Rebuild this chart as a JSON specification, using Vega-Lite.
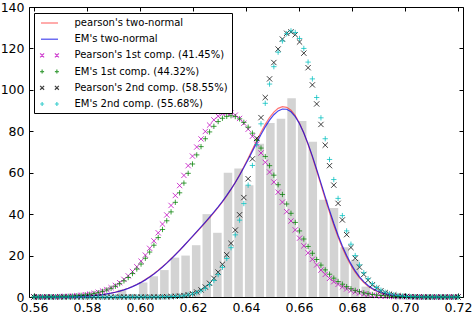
{
  "$schema": "https://vega.github.io/schema/vega-lite/v6.json",
  "width": 434,
  "height": 290,
  "autosize": {"type": "none"},
  "padding": {"left": 29, "top": 7, "right": 11, "bottom": 27},
  "config": {
    "font": "DejaVu Sans",
    "view": {"stroke": "black", "strokeWidth": 1},
    "axis": {"labelFont": "DejaVu Sans", "labelFontSize": 12.5, "labelColor": "black", "tickColor": "black", "tickWidth": 1, "domain": false, "grid": false, "tickSize": -4}
  },
  "datasets": {
    "hist": [
      {"center": 0.5932, "count": 3.5}, {"center": 0.5972, "count": 1.5}, {"center": 0.6012, "count": 7}, {"center": 0.6052, "count": 10},
      {"center": 0.6092, "count": 13}, {"center": 0.6132, "count": 19}, {"center": 0.6172, "count": 20}, {"center": 0.6212, "count": 25},
      {"center": 0.6252, "count": 40}, {"center": 0.6292, "count": 31}, {"center": 0.6332, "count": 60}, {"center": 0.6372, "count": 62},
      {"center": 0.6412, "count": 54}, {"center": 0.6452, "count": 74}, {"center": 0.6492, "count": 84}, {"center": 0.6532, "count": 86},
      {"center": 0.6572, "count": 96}, {"center": 0.6612, "count": 85}, {"center": 0.6652, "count": 75}, {"center": 0.6692, "count": 47},
      {"center": 0.6732, "count": 43}, {"center": 0.6772, "count": 24}, {"center": 0.6812, "count": 18}, {"center": 0.6852, "count": 5}
    ],
    "curves": [
      {"x": 0.56, "p1": 0, "e1": 0, "p2": 0, "e2": 0, "pm": 0.01, "em": 0.01},
      {"x": 0.56162, "p1": 0, "e1": 0, "p2": 0, "e2": 0, "pm": 0.01, "em": 0.01},
      {"x": 0.56323, "p1": 0, "e1": 0, "p2": 0, "e2": 0, "pm": 0.02, "em": 0.02},
      {"x": 0.56485, "p1": 0.1, "e1": 0.1, "p2": 0, "e2": 0, "pm": 0.03, "em": 0.03},
      {"x": 0.56646, "p1": 0.1, "e1": 0.1, "p2": 0, "e2": 0, "pm": 0.04, "em": 0.04},
      {"x": 0.56808, "p1": 0.1, "e1": 0.1, "p2": 0, "e2": 0, "pm": 0.06, "em": 0.06},
      {"x": 0.5697, "p1": 0.2, "e1": 0.2, "p2": 0, "e2": 0, "pm": 0.08, "em": 0.08},
      {"x": 0.57131, "p1": 0.3, "e1": 0.2, "p2": 0, "e2": 0, "pm": 0.1, "em": 0.11},
      {"x": 0.57293, "p1": 0.3, "e1": 0.3, "p2": 0, "e2": 0, "pm": 0.14, "em": 0.14},
      {"x": 0.57455, "p1": 0.5, "e1": 0.4, "p2": 0, "e2": 0, "pm": 0.19, "em": 0.19},
      {"x": 0.57616, "p1": 0.6, "e1": 0.6, "p2": 0, "e2": 0, "pm": 0.25, "em": 0.25},
      {"x": 0.57778, "p1": 0.8, "e1": 0.8, "p2": 0, "e2": 0, "pm": 0.33, "em": 0.33},
      {"x": 0.57939, "p1": 1.1, "e1": 1.0, "p2": 0, "e2": 0, "pm": 0.44, "em": 0.44},
      {"x": 0.58101, "p1": 1.4, "e1": 1.3, "p2": 0, "e2": 0, "pm": 0.57, "em": 0.57},
      {"x": 0.58263, "p1": 1.8, "e1": 1.7, "p2": 0, "e2": 0, "pm": 0.73, "em": 0.73},
      {"x": 0.58424, "p1": 2.3, "e1": 2.1, "p2": 0, "e2": 0, "pm": 0.94, "em": 0.94},
      {"x": 0.58586, "p1": 2.9, "e1": 2.7, "p2": 0, "e2": 0, "pm": 1.2, "em": 1.18},
      {"x": 0.58747, "p1": 3.6, "e1": 3.4, "p2": 0, "e2": 0, "pm": 1.51, "em": 1.49},
      {"x": 0.58909, "p1": 4.5, "e1": 4.2, "p2": 0, "e2": 0, "pm": 1.88, "em": 1.86},
      {"x": 0.59071, "p1": 5.6, "e1": 5.2, "p2": 0, "e2": 0, "pm": 2.33, "em": 2.3},
      {"x": 0.59232, "p1": 6.9, "e1": 6.4, "p2": 0, "e2": 0, "pm": 2.87, "em": 2.83},
      {"x": 0.59394, "p1": 8.5, "e1": 7.8, "p2": 0, "e2": 0, "pm": 3.5, "em": 3.45},
      {"x": 0.59556, "p1": 10.2, "e1": 9.4, "p2": 0, "e2": 0, "pm": 4.24, "em": 4.17},
      {"x": 0.59717, "p1": 12.3, "e1": 11.3, "p2": 0, "e2": 0, "pm": 5.09, "em": 5.01},
      {"x": 0.59879, "p1": 14.6, "e1": 13.5, "p2": 0, "e2": 0, "pm": 6.06, "em": 5.97},
      {"x": 0.6004, "p1": 17.3, "e1": 15.9, "p2": 0, "e2": 0, "pm": 7.16, "em": 7.05},
      {"x": 0.60202, "p1": 20.2, "e1": 18.7, "p2": 0, "e2": 0, "pm": 8.39, "em": 8.27},
      {"x": 0.60364, "p1": 23.5, "e1": 21.7, "p2": 0, "e2": 0, "pm": 9.75, "em": 9.61},
      {"x": 0.60525, "p1": 27.1, "e1": 25.0, "p2": 0, "e2": 0, "pm": 11.26, "em": 11.1},
      {"x": 0.60687, "p1": 31.0, "e1": 28.7, "p2": 0, "e2": 0, "pm": 12.9, "em": 12.74},
      {"x": 0.60848, "p1": 35.2, "e1": 32.6, "p2": 0.1, "e2": 0.1, "pm": 14.64, "em": 14.48},
      {"x": 0.6101, "p1": 39.6, "e1": 36.8, "p2": 0.1, "e2": 0.1, "pm": 16.49, "em": 16.36},
      {"x": 0.61172, "p1": 44.2, "e1": 41.1, "p2": 0.2, "e2": 0.2, "pm": 18.46, "em": 18.32},
      {"x": 0.61333, "p1": 49.0, "e1": 45.7, "p2": 0.3, "e2": 0.3, "pm": 20.49, "em": 20.39},
      {"x": 0.61495, "p1": 53.8, "e1": 50.3, "p2": 0.5, "e2": 0.4, "pm": 22.59, "em": 22.53},
      {"x": 0.61657, "p1": 58.7, "e1": 55.0, "p2": 0.7, "e2": 0.6, "pm": 24.74, "em": 24.73},
      {"x": 0.61818, "p1": 63.4, "e1": 59.7, "p2": 1.1, "e2": 1.0, "pm": 26.94, "em": 26.97},
      {"x": 0.6198, "p1": 68.0, "e1": 64.2, "p2": 1.6, "e2": 1.4, "pm": 29.15, "em": 29.24},
      {"x": 0.62141, "p1": 72.4, "e1": 68.6, "p2": 2.4, "e2": 2.1, "pm": 31.38, "em": 31.53},
      {"x": 0.62303, "p1": 76.3, "e1": 72.6, "p2": 3.4, "e2": 3.0, "pm": 33.63, "em": 33.84},
      {"x": 0.62465, "p1": 79.9, "e1": 76.4, "p2": 4.8, "e2": 4.2, "pm": 35.92, "em": 36.18},
      {"x": 0.62626, "p1": 83.0, "e1": 79.7, "p2": 6.6, "e2": 5.9, "pm": 38.26, "em": 38.56},
      {"x": 0.62788, "p1": 85.5, "e1": 82.4, "p2": 9.0, "e2": 8.0, "pm": 40.68, "em": 41.01},
      {"x": 0.62949, "p1": 87.3, "e1": 84.7, "p2": 12.0, "e2": 10.8, "pm": 43.22, "em": 43.53},
      {"x": 0.63111, "p1": 88.5, "e1": 86.3, "p2": 15.8, "e2": 14.3, "pm": 45.91, "em": 46.19},
      {"x": 0.63273, "p1": 89.0, "e1": 87.2, "p2": 20.4, "e2": 18.6, "pm": 48.81, "em": 49.03},
      {"x": 0.63434, "p1": 88.8, "e1": 87.5, "p2": 25.9, "e2": 23.8, "pm": 51.93, "em": 52.04},
      {"x": 0.63596, "p1": 87.8, "e1": 87.1, "p2": 32.3, "e2": 30.0, "pm": 55.32, "em": 55.29},
      {"x": 0.63758, "p1": 86.2, "e1": 86.0, "p2": 39.7, "e2": 37.1, "pm": 58.97, "em": 58.78},
      {"x": 0.63919, "p1": 83.9, "e1": 84.3, "p2": 48.0, "e2": 45.1, "pm": 62.87, "em": 62.5},
      {"x": 0.64081, "p1": 81.0, "e1": 82.0, "p2": 57.1, "e2": 54.0, "pm": 66.98, "em": 66.4},
      {"x": 0.64242, "p1": 77.6, "e1": 79.1, "p2": 66.7, "e2": 63.5, "pm": 71.21, "em": 70.42},
      {"x": 0.64404, "p1": 73.8, "e1": 75.7, "p2": 76.6, "e2": 73.5, "pm": 75.44, "em": 74.48},
      {"x": 0.64566, "p1": 69.5, "e1": 71.9, "p2": 86.6, "e2": 83.6, "pm": 79.54, "em": 78.43},
      {"x": 0.64727, "p1": 65.0, "e1": 67.8, "p2": 96.3, "e2": 93.5, "pm": 83.33, "em": 82.11},
      {"x": 0.64889, "p1": 60.3, "e1": 63.4, "p2": 105.3, "e2": 102.8, "pm": 86.64, "em": 85.36},
      {"x": 0.65051, "p1": 55.5, "e1": 58.8, "p2": 113.2, "e2": 111.2, "pm": 89.27, "em": 88.0},
      {"x": 0.65212, "p1": 50.6, "e1": 54.2, "p2": 119.7, "e2": 118.2, "pm": 91.06, "em": 89.84},
      {"x": 0.65374, "p1": 45.8, "e1": 49.5, "p2": 124.5, "e2": 123.6, "pm": 91.87, "em": 90.76},
      {"x": 0.65535, "p1": 41.2, "e1": 44.9, "p2": 127.3, "e2": 127.1, "pm": 91.58, "em": 90.65},
      {"x": 0.65697, "p1": 36.7, "e1": 40.4, "p2": 128.0, "e2": 128.5, "pm": 90.13, "em": 89.42},
      {"x": 0.65859, "p1": 32.4, "e1": 36.0, "p2": 126.6, "e2": 127.7, "pm": 87.53, "em": 87.06},
      {"x": 0.6602, "p1": 28.4, "e1": 31.9, "p2": 123.1, "e2": 124.8, "pm": 83.84, "em": 83.64},
      {"x": 0.66182, "p1": 24.7, "e1": 28.0, "p2": 117.7, "e2": 120.0, "pm": 79.16, "em": 79.21},
      {"x": 0.66343, "p1": 21.3, "e1": 24.4, "p2": 110.7, "e2": 113.4, "pm": 73.65, "em": 73.94},
      {"x": 0.66505, "p1": 18.2, "e1": 21.1, "p2": 102.4, "e2": 105.3, "pm": 67.52, "em": 68.01},
      {"x": 0.66667, "p1": 15.5, "e1": 18.1, "p2": 93.2, "e2": 96.3, "pm": 60.96, "em": 61.63},
      {"x": 0.66828, "p1": 13.0, "e1": 15.4, "p2": 83.3, "e2": 86.5, "pm": 54.2, "em": 54.99},
      {"x": 0.6699, "p1": 10.9, "e1": 13.1, "p2": 73.3, "e2": 76.4, "pm": 47.43, "em": 48.31},
      {"x": 0.67152, "p1": 9.0, "e1": 11.0, "p2": 63.4, "e2": 66.4, "pm": 40.87, "em": 41.79},
      {"x": 0.67313, "p1": 7.4, "e1": 9.1, "p2": 54.0, "e2": 56.7, "pm": 34.66, "em": 35.59},
      {"x": 0.67475, "p1": 6.1, "e1": 7.5, "p2": 45.2, "e2": 47.6, "pm": 28.95, "em": 29.83},
      {"x": 0.67636, "p1": 4.9, "e1": 6.2, "p2": 37.2, "e2": 39.3, "pm": 23.78, "em": 24.62},
      {"x": 0.67798, "p1": 3.9, "e1": 5.0, "p2": 30.1, "e2": 31.9, "pm": 19.21, "em": 19.99},
      {"x": 0.6796, "p1": 3.1, "e1": 4.0, "p2": 23.9, "e2": 25.5, "pm": 15.29, "em": 15.98},
      {"x": 0.68121, "p1": 2.5, "e1": 3.2, "p2": 18.7, "e2": 20.0, "pm": 11.97, "em": 12.57},
      {"x": 0.68283, "p1": 1.9, "e1": 2.6, "p2": 14.4, "e2": 15.5, "pm": 9.23, "em": 9.73},
      {"x": 0.68444, "p1": 1.5, "e1": 2.0, "p2": 10.9, "e2": 11.7, "pm": 7.01, "em": 7.43},
      {"x": 0.68606, "p1": 1.2, "e1": 1.6, "p2": 8.1, "e2": 8.8, "pm": 5.23, "em": 5.57},
      {"x": 0.68768, "p1": 0.9, "e1": 1.2, "p2": 5.9, "e2": 6.4, "pm": 3.84, "em": 4.12},
      {"x": 0.68929, "p1": 0.7, "e1": 0.9, "p2": 4.3, "e2": 4.6, "pm": 2.79, "em": 3.0},
      {"x": 0.69091, "p1": 0.5, "e1": 0.7, "p2": 3.0, "e2": 3.3, "pm": 1.98, "em": 2.15},
      {"x": 0.69253, "p1": 0.4, "e1": 0.6, "p2": 2.1, "e2": 2.3, "pm": 1.4, "em": 1.52},
      {"x": 0.69414, "p1": 0.3, "e1": 0.4, "p2": 1.4, "e2": 1.6, "pm": 0.96, "em": 1.06},
      {"x": 0.69576, "p1": 0.2, "e1": 0.3, "p2": 1.0, "e2": 1.1, "pm": 0.65, "em": 0.73},
      {"x": 0.69737, "p1": 0.1, "e1": 0.2, "p2": 0.6, "e2": 0.7, "pm": 0.43, "em": 0.49},
      {"x": 0.69899, "p1": 0.1, "e1": 0.2, "p2": 0.4, "e2": 0.5, "pm": 0.3, "em": 0.34},
      {"x": 0.70061, "p1": 0.1, "e1": 0.1, "p2": 0.3, "e2": 0.3, "pm": 0.19, "em": 0.21},
      {"x": 0.70222, "p1": 0.1, "e1": 0.1, "p2": 0.2, "e2": 0.2, "pm": 0.12, "em": 0.15},
      {"x": 0.70384, "p1": 0, "e1": 0.1, "p2": 0.1, "e2": 0.1, "pm": 0.08, "em": 0.1},
      {"x": 0.70545, "p1": 0, "e1": 0, "p2": 0.1, "e2": 0.1, "pm": 0.05, "em": 0.06},
      {"x": 0.70707, "p1": 0, "e1": 0, "p2": 0, "e2": 0, "pm": 0.03, "em": 0.03},
      {"x": 0.70869, "p1": 0, "e1": 0, "p2": 0, "e2": 0, "pm": 0.02, "em": 0.02},
      {"x": 0.7103, "p1": 0, "e1": 0, "p2": 0, "e2": 0, "pm": 0.01, "em": 0.01},
      {"x": 0.71192, "p1": 0, "e1": 0, "p2": 0, "e2": 0, "pm": 0, "em": 0},
      {"x": 0.71354, "p1": 0, "e1": 0, "p2": 0, "e2": 0, "pm": 0, "em": 0},
      {"x": 0.71515, "p1": 0, "e1": 0, "p2": 0, "e2": 0, "pm": 0, "em": 0},
      {"x": 0.71677, "p1": 0, "e1": 0, "p2": 0, "e2": 0, "pm": 0, "em": 0},
      {"x": 0.71838, "p1": 0, "e1": 0, "p2": 0, "e2": 0, "pm": 0, "em": 0},
      {"x": 0.72, "p1": 0, "e1": 0, "p2": 0, "e2": 0, "pm": 0, "em": 0}
    ]
  },
  "resolve": {"axis": {"x": "independent", "y": "independent"}},
  "layer": [
    {
      "data": {"name": "hist"},
      "mark": {"type": "bar", "color": "#d3d3d3", "width": 8.5, "orient": "vertical"},
      "encoding": {
        "x": {"field": "center", "type": "quantitative", "scale": {"domain": [0.56, 0.72], "nice": false, "zero": false},
              "axis": {"orient": "bottom", "title": null, "values": [0.56, 0.58, 0.6, 0.62, 0.64, 0.66, 0.68, 0.7, 0.72], "format": ".2f", "labelPadding": 8, "labelFlush": false}},
        "y": {"field": "count", "type": "quantitative", "scale": {"domain": [0, 140], "nice": false},
              "axis": {"orient": "left", "title": null, "values": [0, 20, 40, 60, 80, 100, 120, 140], "format": "d", "labelPadding": 9, "labelFlush": false}}
      }
    },
    {
      "data": {"name": "curves"},
      "transform": [{"fold": ["pm", "em"], "as": ["series", "value"]}],
      "mark": {"type": "line", "strokeWidth": 1.2},
      "encoding": {
        "x": {"field": "x", "type": "quantitative", "scale": {"domain": [0.56, 0.72], "nice": false, "zero": false},
              "axis": {"orient": "top", "title": null, "labels": false, "values": [0.56, 0.58, 0.6, 0.62, 0.64, 0.66, 0.68, 0.7, 0.72]}},
        "y": {"field": "value", "type": "quantitative", "scale": {"domain": [0, 140], "nice": false},
              "axis": {"orient": "right", "title": null, "labels": false, "values": [0, 20, 40, 60, 80, 100, 120, 140]}},
        "color": {
          "field": "series", "type": "nominal",
          "scale": {"domain": ["pm", "em", "p1", "e1", "p2", "e2"],
                    "range": ["rgba(255,0,0,0.55)", "rgba(0,0,230,0.72)", "rgba(191,0,191,0.75)", "rgba(0,128,0,0.75)", "rgba(0,0,0,0.75)", "rgba(0,191,191,0.75)"]},
          "legend": {
            "orient": "none", "legendX": 5, "legendY": 6, "title": null,
            "fillColor": "white", "strokeColor": "black", "padding": 3.5,
            "symbolSize": 121, "symbolStrokeWidth": 1.2, "symbolOffset": 5.5,
            "labelFont": "DejaVu Sans", "labelFontSize": 10, "labelColor": "black", "labelOffset": 18.5, "labelLimit": 400, "rowPadding": 4.2,
            "labelExpr": "datum.value == 'pm' ? \"pearson's two-normal\" : datum.value == 'em' ? \"EM's two-normal\" : datum.value == 'p1' ? \"Pearson's 1st comp. (41.45%)\" : datum.value == 'e1' ? \"EM's 1st comp. (44.32%)\" : datum.value == 'p2' ? \"Pearson's 2nd comp. (58.55%)\" : \"EM's 2nd comp. (55.68%)\"",
            "encode": {"symbols": {"update": {
              "shape": {"signal": "(datum.value == 'p1' || datum.value == 'p2') ? 'M-1.7,-0.36L-0.98,0.36M-1.7,0.36L-0.98,-0.36M0.98,-0.36L1.7,0.36M0.98,0.36L1.7,-0.36' : (datum.value == 'e1' || datum.value == 'e2') ? 'M-1.7,0L-0.98,0M-1.34,-0.36L-1.34,0.36M0.98,0L1.7,0M1.34,-0.36L1.34,0.36' : 'M-1.545,0L1.545,0'"},
              "fill": {"value": "transparent"}
            }}}
          }
        }
      }
    },
    {
      "data": {"name": "curves"},
      "transform": [{"fold": ["p1", "e1", "p2", "e2"], "as": ["series", "value"]}],
      "mark": {"type": "point", "filled": false, "strokeWidth": 1, "size": 28, "opacity": 1},
      "encoding": {
        "x": {"field": "x", "type": "quantitative", "scale": {"domain": [0.56, 0.72], "nice": false, "zero": false}, "axis": null},
        "y": {"field": "value", "type": "quantitative", "scale": {"domain": [0, 140], "nice": false}, "axis": null},
        "color": {"field": "series", "type": "nominal"},
        "shape": {"field": "series", "type": "nominal",
                  "scale": {"domain": ["p1", "e1", "p2", "e2"], "range": ["M-1,-1L1,1M-1,1L1,-1", "M-1,0L1,0M0,-1L0,1", "M-1,-1L1,1M-1,1L1,-1", "M-1,0L1,0M0,-1L0,1"]},
                  "legend": null}
      }
    }
  ]
}
